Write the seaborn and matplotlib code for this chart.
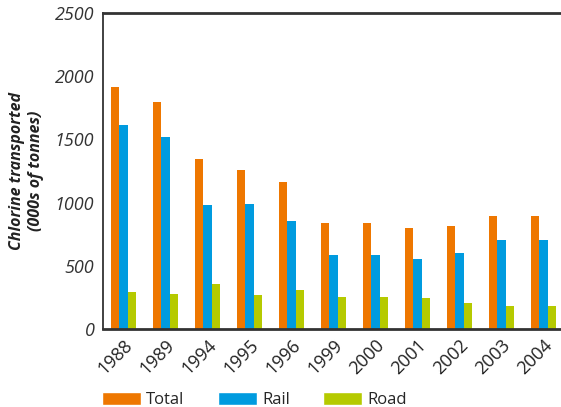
import pandas as pd
import seaborn as sns
import matplotlib.pyplot as plt
from matplotlib.patches import Patch

# Chlorine transported (000s of tonnes)
years = ['1988', '1989', '1994', '1995', '1996', '1999', '2000', '2001', '2002', '2003', '2004']
total = [1910, 1795, 1343, 1258, 1163, 840, 840, 800, 816, 895, 895]
rail = [1612, 1519, 982, 990, 855, 587, 587, 555, 603, 705, 705]
road = [295, 279, 358, 271, 311, 256, 256, 248, 208, 184, 184]

series = ['Total', 'Rail', 'Road']
colours = ['#EE7700', '#009BDF', '#B5CA00']

df = pd.DataFrame({'Year': years, 'Total': total, 'Rail': rail, 'Road': road})
df_long = df.melt(id_vars='Year', var_name='Mode', value_name='Tonnes')

sns.set_style('white')
plt.rcParams['font.family'] = ['Open Sans', 'DejaVu Sans']

fig = plt.figure(figsize=(5.61, 4.07), dpi=100)
ax = fig.add_axes([0.183, 0.191, 0.817, 0.778])

sns.barplot(data=df_long, x='Year', y='Tonnes', hue='Mode', hue_order=series,
            palette=colours, width=0.6, saturation=1, linewidth=0, ax=ax, legend=False)

ax.set_xlim(-0.5, 10.42)
ax.set_ylim(0, 2500)
ax.set_yticks(range(0, 2501, 500))
ax.set_yticklabels([str(v) for v in range(0, 2501, 500)], fontsize=13, style='italic', color='#333333')
ax.set_xticks(range(len(years)))
ax.set_xticklabels(years, rotation=45, ha='right', rotation_mode='anchor', fontsize=13, color='#222222')
ax.set_xticks([i + 0.5 for i in range(len(years) - 1)], minor=True)
ax.tick_params(axis='x', which='major', length=0, pad=5)
ax.tick_params(axis='x', which='minor', direction='in', length=7, width=1.3, color='#333333')
ax.tick_params(axis='y', length=3, width=1.2, color='#333333', pad=3)

for name in ['top', 'bottom', 'left']:
    ax.spines[name].set_visible(True)
    ax.spines[name].set_color('#333333')
ax.spines['top'].set_linewidth(2)
ax.spines['bottom'].set_linewidth(2)
ax.spines['left'].set_linewidth(1.3)
ax.spines['right'].set_visible(False)

ax.set_xlabel('')
ax.set_ylabel('Chlorine transported\n(000s of tonnes)', fontsize=11.5, fontweight='bold',
              style='italic', color='#222222', labelpad=8)

handles = [Patch(facecolor=c, label=s) for s, c in zip(series, colours)]
fig.legend(handles=handles, loc='lower left', bbox_to_anchor=(0.155, -0.04), ncol=3,
           frameon=False, fontsize=12, handlelength=2.35, handleheight=0.75,
           handletextpad=0.3, columnspacing=2.0)

fig.savefig('out.png', dpi=100)
